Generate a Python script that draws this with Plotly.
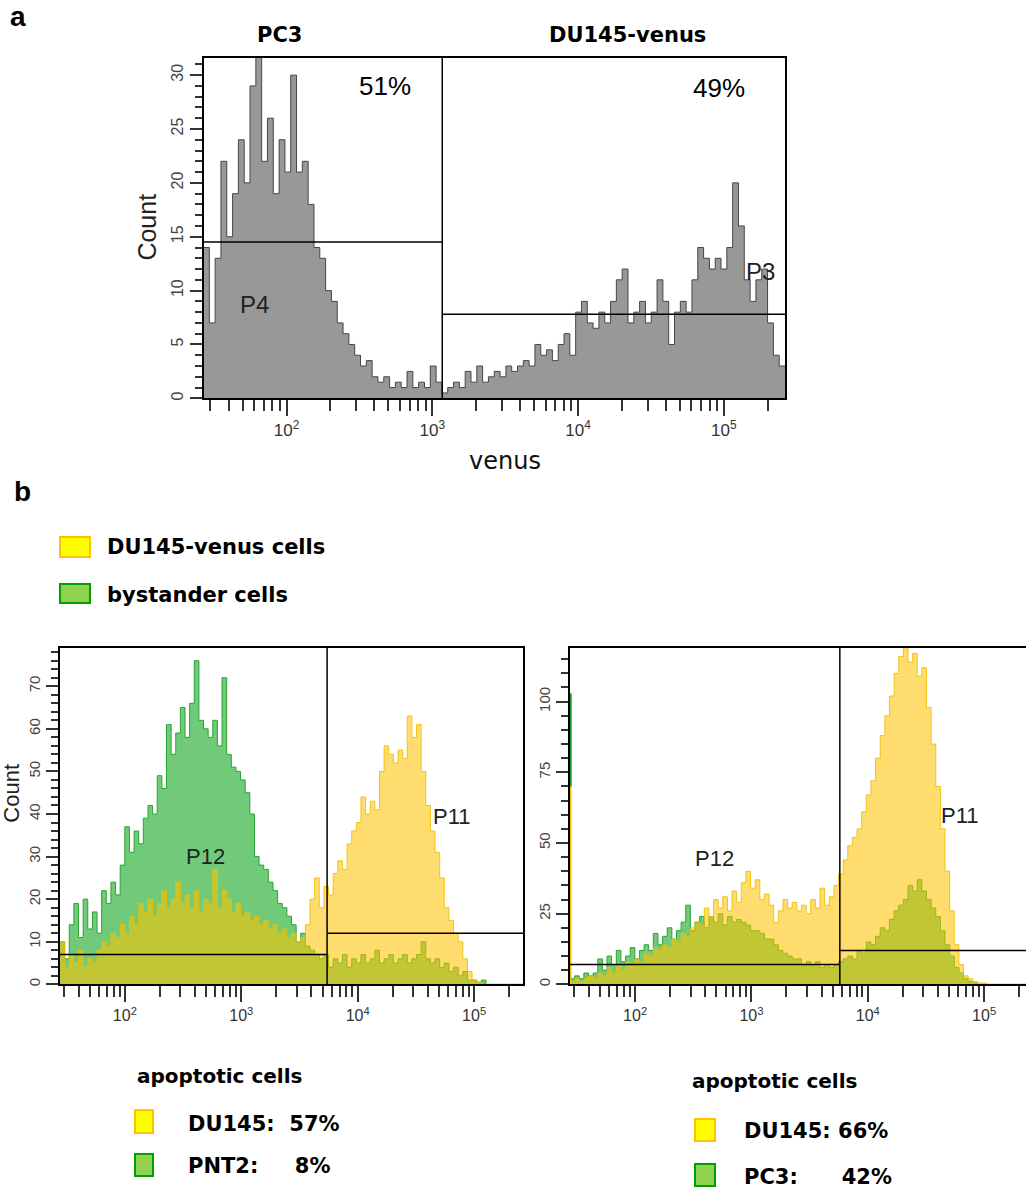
import numpy as np
import plotly.graph_objects as go

W, H = 1026, 1193

# ---------------- data ----------------
# panel a : single histogram (venus channel), 100 log-spaced bins
A_LOG_RANGE = [1.43, 5.42]
a_counts = [14, 7, 13, 22, 15, 19, 24, 20, 29, 33,
            22, 26, 19, 24, 21, 30, 21, 22, 18, 14,
            13, 10, 9, 7, 6, 5, 4, 3, 3.5, 2,
            1.5, 2, 1, 1.5, 1, 2.5, 1, 1.5, 1, 3,
            1.5, 0.5, 1, 1.5, 1, 2.5, 1.5, 3, 1.5, 2,
            2.5, 2, 3, 2.5, 3, 3.5, 3, 5, 4, 4.5,
            3.5, 5, 6, 4, 8, 9, 7, 6.5, 8, 7,
            9, 11, 12, 7, 8, 9, 7, 8, 11, 9,
            5, 8, 9, 8, 11, 14, 13, 12, 13, 12,
            14, 20, 16, 11, 9, 11, 12, 7, 4, 3]
a_y_max = 31.6
a_gate_x = 1170
a_gate_y = [14.5, 7.8]
a_pop_titles = ["PC3", "DU145-venus"]
a_pcts = ["51%", "49%"]
a_gate_names = ["P4", "P3"]

# panel b : two overlaid histograms per plot, 100 log-spaced bins
BL_LOG_RANGE = [1.443, 5.42]
bL_du145 = [10, 4, 7, 5, 8, 4, 6, 5, 8, 10,
            9, 12, 11, 14, 12, 16, 14, 19, 17, 20,
            16, 19, 22, 18, 20, 24, 19, 21, 18, 22,
            17, 20, 19, 27, 18, 22, 20, 17, 19, 16,
            17, 15, 16, 14, 15, 13, 14, 12, 13, 11,
            12, 10, 11, 14, 20, 25, 18, 23, 21, 26,
            29, 27, 33, 36, 38, 44, 40, 43, 41, 50,
            56, 54, 52, 55, 53, 63, 58, 61, 50, 42,
            36, 31, 25, 18, 15, 12, 10, 6, 3, 1,
            0.5, 0, 0, 0, 0, 0, 0, 0, 0, 0]
bL_bystander = [10, 6, 14, 19, 11, 20, 13, 17, 12, 22,
                19, 24, 21, 28, 37, 31, 36, 33, 39, 42,
                40, 49, 46, 61, 54, 59, 65, 58, 66, 76,
                62, 60, 58, 62, 56, 72, 54, 51, 50, 48,
                45, 40, 30, 28, 27, 24, 22, 19, 18, 16,
                14, 10, 12, 9, 8, 7, 6, 7, 4, 6,
                5, 7, 4, 6, 5, 7, 5, 6, 8, 5,
                6, 7, 5, 6, 7, 5, 6, 7, 10, 6,
                5, 6, 4, 5, 3, 4, 2, 3, 1, 1,
                0.5, 1, 0, 0, 0, 0, 0, 0, 0, 0]
bL_y_max = 79
bL_gate_x = 5460
bL_gate_y = [7, 12]

BR_BIN_RANGE = [1.44, 5.42]
BR_VIEW_RANGE = [1.44, 5.36]
bR_du145 = [1, 2, 1, 2, 3, 2, 4, 3, 6, 4,
            7, 5, 8, 7, 9, 8, 11, 10, 13, 12,
            14, 13, 16, 15, 18, 17, 20, 22, 21, 27,
            24, 30, 27, 31, 26, 33, 29, 36, 40, 34,
            37, 30, 32, 28, 22, 26, 30, 27, 29, 26,
            28, 25, 30, 27, 34, 28, 31, 35, 39, 44,
            49, 52, 55, 61, 67, 72, 80, 88, 95, 102,
            110, 116, 119, 114, 117, 109, 112, 98, 85, 70,
            55, 40, 26, 14, 7, 3, 2, 1, 0.5, 0.5,
            0, 0, 0, 0, 0, 0, 0, 0, 0, 0]
bR_bystander = [2, 3, 2, 4, 3, 4, 9, 5, 10, 7,
                12, 8, 10, 13, 9, 12, 14, 12, 18, 14,
                17, 20, 16, 19, 22, 28, 19, 22, 24, 20,
                24, 22, 25, 21, 24, 22, 23, 22, 21, 19,
                19, 18, 16, 16, 14, 12, 11, 10, 9, 9,
                7, 8, 7, 8, 6, 7, 6, 7, 8, 9,
                10, 9, 12, 11, 15, 14, 17, 20, 19, 23,
                26, 28, 30, 35, 33, 37, 33, 30, 27, 24,
                19, 14, 10, 6, 4, 2, 1, 0.5, 0, 0,
                0, 0, 0, 0, 0, 0, 0, 0, 0, 0]
# lowest (off-scale) channel of the right plot
bR_first_channel = {"du145": 70, "bystander": 103}
bR_y_max = 119
bR_gate_x = 5750
bR_gate_y = [7, 12]

legend_labels = ["DU145-venus cells", "bystander cells"]
apop_left = ["DU145:  57%", "PNT2:     8%"]
apop_right = ["DU145: 66%", "PC3:      42%"]

decades = [100, 1000, 10000, 100000]
decade_labels = ["10<sup>2</sup>", "10<sup>3</sup>", "10<sup>4</sup>", "10<sup>5</sup>"]
minor_ticks = [m * 10 ** e for e in range(1, 6) for m in range(2, 10)]

# ---------------- styles ----------------
FONT = "Liberation Sans, Arial, sans-serif"
WIDE = "DejaVu Sans, Verdana, sans-serif"
GRAY_FILL = "rgb(152,152,152)"
GRAY_LINE = "rgb(70,70,70)"
GREEN_FILL = "rgb(112,202,122)"
GREEN_LINE = "rgb(40,165,50)"
YEL_FILL = "rgba(254,196,0,0.57)"
YEL_LINE = "rgba(240,188,0,0.85)"


def px(x):
    return x / W


def py(y):
    return 1 - y / H


def step(counts, rng):
    edges = np.logspace(rng[0], rng[1], len(counts) + 1)
    return list(edges), list(counts) + [counts[-1]]


fig = go.Figure()


def hist(counts, rng, fill, line, xa, ya):
    x, y = step(counts, rng)
    fig.add_trace(go.Scatter(x=x, y=y, mode="lines", line_shape="hv", fill="tozeroy",
                             fillcolor=fill, line=dict(color=line, width=1),
                             xaxis=xa, yaxis=ya, showlegend=False, hoverinfo="skip"))


hist(a_counts, A_LOG_RANGE, GRAY_FILL, GRAY_LINE, "x", "y")
hist(bL_bystander, BL_LOG_RANGE, GREEN_FILL, GREEN_LINE, "x2", "y2")
hist(bL_du145, BL_LOG_RANGE, YEL_FILL, YEL_LINE, "x2", "y2")
hist(bR_bystander, BR_BIN_RANGE, GREEN_FILL, GREEN_LINE, "x3", "y3")
hist(bR_du145, BR_BIN_RANGE, YEL_FILL, YEL_LINE, "x3", "y3")

# off-scale first channel in the right plot (thin line on the axis)
x_first = 10 ** (BR_VIEW_RANGE[0] + 0.004)
fig.add_trace(go.Scatter(x=[x_first, x_first], y=[0, bR_first_channel["du145"]], mode="lines",
                         line=dict(color="rgb(245,190,0)", width=2), xaxis="x3", yaxis="y3",
                         showlegend=False, hoverinfo="skip", cliponaxis=False))
fig.add_trace(go.Scatter(x=[x_first, x_first],
                         y=[bR_first_channel["du145"], bR_first_channel["bystander"]],
                         mode="lines", line=dict(color="rgb(30,150,40)", width=2.5),
                         xaxis="x3", yaxis="y3", showlegend=False, hoverinfo="skip",
                         cliponaxis=False))


def gates(xa, ya, rng, ymax, gx, gy):
    lo, hi = 10 ** rng[0], 10 ** rng[1]
    segs = [([gx, gx], [0, ymax]), ([lo, gx], [gy[0], gy[0]]), ([gx, hi], [gy[1], gy[1]])]
    for sx, sy in segs:
        fig.add_trace(go.Scatter(x=sx, y=sy, mode="lines", line=dict(color="black", width=1.5),
                                 xaxis=xa, yaxis=ya, showlegend=False, hoverinfo="skip",
                                 cliponaxis=False))


gates("x", "y", A_LOG_RANGE, a_y_max, a_gate_x, a_gate_y)
gates("x2", "y2", BL_LOG_RANGE, bL_y_max, bL_gate_x, bL_gate_y)
gates("x3", "y3", [BR_VIEW_RANGE[0], 5.42], bR_y_max, bR_gate_x, bR_gate_y)


def xax(domain, anchor, rng, size, mirror=True):
    return dict(domain=domain, anchor=anchor, type="log", range=rng,
                showgrid=False, zeroline=False, showline=True, mirror=mirror,
                linecolor="black", linewidth=1.5,
                tickmode="array", tickvals=decades, ticktext=decade_labels,
                ticks="outside", ticklen=16, tickwidth=2, tickcolor="#333",
                minor=dict(tickmode="array", tickvals=minor_ticks, ticks="outside",
                           ticklen=11, tickwidth=2, tickcolor="#333"),
                tickfont=dict(family=FONT, size=size, color="#333"))


def yax(domain, anchor, rng, dtick, mdtick, size, mirror=True):
    return dict(domain=domain, anchor=anchor, range=rng, showgrid=False, zeroline=False,
                showline=True, mirror=mirror, linecolor="black", linewidth=1.5,
                dtick=dtick, tick0=0, ticks="outside", ticklen=12, tickwidth=2, tickcolor="#333",
                minor=dict(dtick=mdtick, tick0=0, ticks="outside", ticklen=7,
                           tickwidth=1.5, tickcolor="#333"),
                tickangle=-90, tickfont=dict(family=FONT, size=size, color="#444"))


fig.update_layout(
    width=W, height=H, margin=dict(l=0, r=0, t=0, b=0),
    paper_bgcolor="white", plot_bgcolor="white", showlegend=False,
    xaxis=xax([px(203.5), px(785)], "y", A_LOG_RANGE, 17),
    yaxis=yax([py(399), py(58)], "x", [0, a_y_max], 5, 1, 16),
    xaxis2=xax([px(60), px(523)], "y2", BL_LOG_RANGE, 16),
    yaxis2=yax([py(986), py(649)], "x2", [0, bL_y_max], 10, 2, 15),
    xaxis3=xax([px(570), 1.0], "y3", BR_VIEW_RANGE, 16),
    yaxis3=yax([py(986), py(649)], "x3", [0, bR_y_max], 25, 5, 15, mirror=False),
)

ann = []


def text(x, y, s, size, bold=False, anchor="center", angle=0, color="black", family=FONT):
    ann.append(dict(x=px(x), y=py(y), xref="paper", yref="paper", showarrow=False,
                    text=("<b>%s</b>" % s) if bold else s, textangle=angle,
                    xanchor=anchor, yanchor="middle",
                    font=dict(family=family, size=size, color=color)))


# panel a
text(18, 17, "a", 28, bold=True)
text(279, 35, a_pop_titles[0], 21, bold=True, family=WIDE)
text(627, 35, a_pop_titles[1], 21, bold=True, family=WIDE)
text(385, 86, a_pcts[0], 26)
text(719, 88, a_pcts[1], 26)
text(254, 305, a_gate_names[0], 24, color="#222")
text(760, 272, a_gate_names[1], 24, color="#222")
text(147, 228, "Count", 25, angle=-90, color="#222")
text(505, 462, "venus", 24, color="#111", family=WIDE)

# panel b
text(22, 492, "b", 28, bold=True)
text(105, 548, legend_labels[0], 21, bold=True, anchor="left", family=WIDE)
text(105, 596, legend_labels[1], 21, bold=True, anchor="left", family=WIDE)
text(12, 795, "Count", 22, angle=-90, color="#222")
text(205, 858, "P12", 22, color="#222")
text(452, 818, "P11", 22, color="#222")
text(714, 860, "P12", 22, color="#222")
text(960, 817, "P11", 22, color="#222")

text(135, 1078, "apoptotic cells", 20, bold=True, anchor="left", family=WIDE)
text(186, 1126, apop_left[0], 21, bold=True, anchor="left", family=WIDE)
text(186, 1168, apop_left[1], 21, bold=True, anchor="left", family=WIDE)
text(690, 1083, "apoptotic cells", 20, bold=True, anchor="left", family=WIDE)
text(742, 1133, apop_right[0], 21, bold=True, anchor="left", family=WIDE)
text(742, 1179, apop_right[1], 21, bold=True, anchor="left", family=WIDE)

fig.update_layout(annotations=ann)

YEL_BOX = dict(fill="#FFFF00", line="#FFC000")
GRN_BOX = dict(fill="#92D050", line="#00A000")
shapes = []


def box(x0, y0, x1, y1, st):
    shapes.append(dict(type="rect", xref="paper", yref="paper", x0=px(x0), x1=px(x1),
                       y0=py(y1), y1=py(y0), fillcolor=st["fill"],
                       line=dict(color=st["line"], width=2)))


box(60, 538, 90, 558, YEL_BOX)
box(60, 585, 90, 604, GRN_BOX)
box(135, 1112, 153, 1135, YEL_BOX)
box(135, 1156, 153, 1178, GRN_BOX)
box(695, 1121, 715, 1143, YEL_BOX)
box(695, 1166, 715, 1188, GRN_BOX)
fig.update_layout(shapes=shapes)

fig.write_html("out.html", config={"displayModeBar": False},
               post_script="document.body.style.margin='0px';")
